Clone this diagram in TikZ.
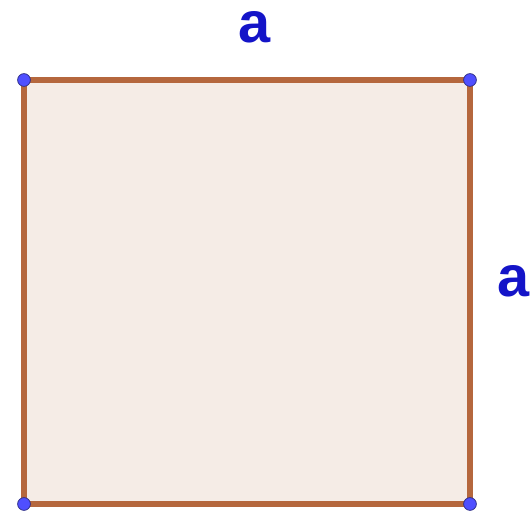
\documentclass[tikz,border=0pt]{standalone}
\usepackage{fontspec}
\setmainfont{Liberation Sans}
\usetikzlibrary{positioning}
\definecolor{cside}{HTML}{B5673D}
\definecolor{cfill}{HTML}{F5ECE6}
\definecolor{cdot}{HTML}{4F4FFF}
\definecolor{cdotline}{HTML}{2A2A80}
\definecolor{clabel}{HTML}{1414C8}
\tikzset{
  side/.style={draw=cside, line width=3.6pt, line cap=round},
  vertex/.style={circle, fill=cdot, draw=cdotline, line width=0.5pt, inner sep=0pt, minimum size=0.32cm},
  lbl/.style={font=\fontsize{41}{41}\selectfont\bfseries, text=clabel, inner sep=0pt},
}
\begin{document}
\begin{tikzpicture}
  \useasboundingbox (0,0) rectangle (13.275,12.825);
  \coordinate (tl) at (0.6,10.825);
  \coordinate (tr) at (11.75,10.825);
  \coordinate (br) at (11.75,0.225);
  \coordinate (bl) at (0.6,0.225);

  % the square
  \fill[cfill] (tl) -- (tr) -- (br) -- (bl) -- cycle;
  \draw[side] (tl) -- (tr);
  \draw[side] (tr) -- (br);
  \draw[side] (br) -- (bl);
  \draw[side] (bl) -- (tl);

  \foreach \p in {tl, tr, br, bl}
    \node[vertex] (v\p) at (\p) {};

  % side labels
  \node[lbl] (atop)   at (6.375,12.15) {a};
  \node[lbl] (aright) at (12.85,5.8) {a};
\end{tikzpicture}
\end{document}
